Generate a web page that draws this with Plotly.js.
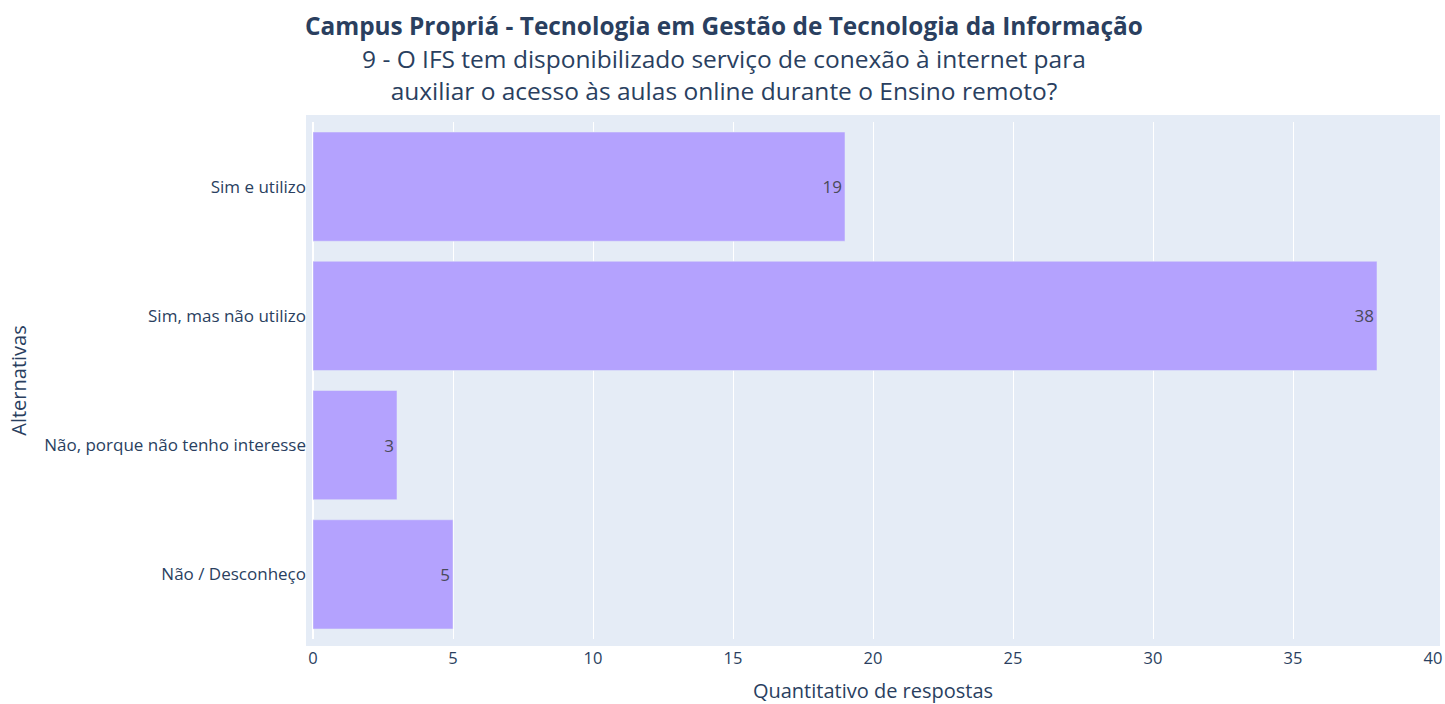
<!DOCTYPE html>
<html>
<head>
<meta charset="utf-8">
<script src="https://cdn.plot.ly/plotly-3.0.1.min.js"></script>
<style>html,body{margin:0;padding:0;background:#fff;}#chart{width:1445px;height:704px;}</style>
</head>
<body>
<div id="chart"></div>
<script>
// Categories listed bottom-to-top (Plotly category axis draws first at bottom)
const categories = ["Não / Desconheço", "Não, porque não tenho interesse", "Sim, mas não utilizo", "Sim e utilizo"];
const counts = [5, 3, 38, 19];
const xTickValues = [0, 5, 10, 15, 20, 25, 30, 35, 40];

const titleMain = "Campus Propriá - Tecnologia em Gestão de Tecnologia da Informação";
const subtitle1 = "9 - O IFS tem disponibilizado serviço de conexão à internet para";
const subtitle2 = "auxiliar o acesso às aulas online durante o Ensino remoto?";

const W = 1445, H = 704;
const margin = {l: 313, r: 12, t: 122, b: 65};
const plotW = W - margin.l - margin.r;
const plotH = H - margin.t - margin.b;
const pad = 7;

const trace = {
  type: 'bar',
  orientation: 'h',
  x: counts,
  y: categories,
  text: counts.map(String),
  textposition: 'inside',
  insidetextanchor: 'end',
  textangle: 0,
  textfont: {size: 17, color: '#4a4a5a'},
  marker: {color: '#b4a2fe', line: {color: '#E5ECF6', width: 0.5}},
  hoverinfo: 'x+y'
};

const layout = {
  width: W, height: H,
  margin: margin,
  paper_bgcolor: '#ffffff',
  plot_bgcolor: 'rgba(0,0,0,0)',
  font: {family: '"Open Sans", verdana, arial, sans-serif', color: '#2a3f5f', size: 17},
  bargap: 0.155,
  showlegend: false,
  title: {
    text: '<span style="font-size:24.4px"><b>' + titleMain + '</b></span><br><span style="font-size:24.5px">' + subtitle1 + '</span><br><span style="font-size:24.5px">' + subtitle2 + '</span>',
    font: {size: 25, color: '#2a3f5f'},
    x: 0.501, xanchor: 'center', xref: 'container',
    y: 1 - 35 / H, yanchor: 'top', yref: 'container'
  },
  xaxis: {
    range: [0, 40],
    tickvals: xTickValues,
    ticktext: xTickValues.map(String),
    showgrid: true, gridcolor: '#ffffff', gridwidth: 1,
    zeroline: true, zerolinecolor: '#ffffff', zerolinewidth: 2,
    tickfont: {size: 16.5, color: '#2a3f5f'},
    ticklabelstandoff: 7,
    title: {text: 'Quantitativo de respostas', font: {size: 20, color: '#2a3f5f'}, standoff: 26},
    automargin: false
  },
  yaxis: {
    type: 'category',
    categoryorder: 'array',
    categoryarray: categories,
    showgrid: false,
    tickfont: {size: 17, color: '#2a3f5f'},
    ticklabelstandoff: 6,
    title: {text: 'Alternativas', font: {size: 20, color: '#2a3f5f'}, standoff: 12},
    automargin: false
  },
  shapes: [{
    type: 'rect', xref: 'paper', yref: 'paper', layer: 'below',
    x0: -pad / plotW, x1: 1 + pad / plotW,
    y0: -pad / plotH, y1: 1 + pad / plotH,
    fillcolor: '#E5ECF6', line: {width: 0}
  }]
};

Plotly.newPlot('chart', [trace], layout, {displayModeBar: false, responsive: false});
</script>
</body>
</html>
